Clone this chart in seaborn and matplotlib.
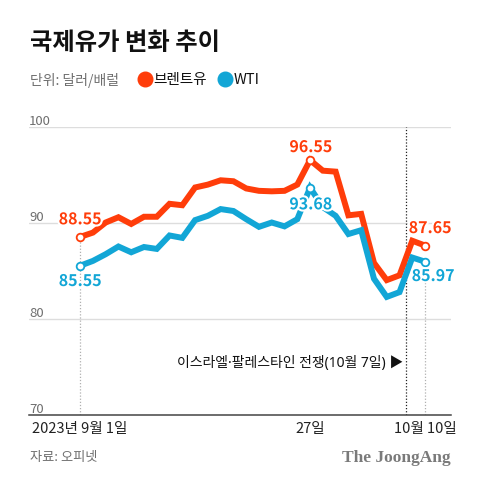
import numpy as np
import pandas as pd
import matplotlib
matplotlib.use("Agg")
import matplotlib.pyplot as plt
import matplotlib.patheffects as pe
from matplotlib.lines import Line2D
import seaborn as sns

# trading days from 2023-09-01 to 2023-10-10 (index on x axis)
brent = [88.55, 89.0, 90.05, 90.6, 89.9, 90.65, 90.65, 92.0, 91.85, 93.7,
         94.0, 94.45, 94.35, 93.6, 93.35, 93.3, 93.35, 94.0, 96.55, 95.45,
         95.35, 90.8, 90.95, 85.85, 84.05, 84.55, 88.15, 87.65]
wti = [85.55, 86.05, 86.75, 87.55, 86.95, 87.5, 87.3, 88.7, 88.45, 90.3,
       90.75, 91.45, 91.25, 90.4, 89.6, 90.05, 89.65, 90.4, 93.68, 91.65,
       90.75, 88.85, 89.25, 84.2, 82.3, 82.8, 86.4, 85.97]
tick_idx = [0, 18, 27]
tick_labels = ["2023년 9월 1일", "27일", "10월 10일"]
yticks = [70, 80, 90, 100]
war_idx = 25.5  # between Oct 6 and Oct 9

RED = "#FF3D0A"
BLUE = "#12A6D6"
GRAY = "#6e6e6e"

sns.set_style("white")
plt.rcParams["font.family"] = ["Noto Sans CJK KR", "DejaVu Sans"]

df = pd.DataFrame({
    "idx": list(range(len(brent))) * 2,
    "price": brent + wti,
    "series": ["브렌트유"] * len(brent) + ["WTI"] * len(wti),
})

fig = plt.figure(figsize=(4.8, 4.89), dpi=100)
ax = fig.add_axes([29 / 480, 1 - 416 / 489, 422 / 480, 288 / 489])

sns.lineplot(data=df, x="idx", y="price", hue="series",
             palette={"브렌트유": RED, "WTI": BLUE}, linewidth=4.3,
             legend=False, ax=ax, zorder=3)
for ln in ax.get_lines():
    ln.set_solid_joinstyle("miter")

ax.set_xlim(-4, 29.03)
ax.set_ylim(70, 100)

# grid lines + y labels
for v in yticks[1:]:
    ax.axhline(v, color="#dddddd", lw=1.0, zorder=1)
for v in yticks:
    ax.text(0.0, v + 0.33, str(v), transform=ax.get_yaxis_transform(),
            ha="left", va="baseline", fontsize=9.5, color=GRAY)
ax.set_yticks([])

# dotted guides
ax.vlines([0], 70, brent[0], colors="#b0b0b0", linestyles=(0, (1, 1.5)), lw=0.9, zorder=2)
ax.vlines([27], 70, wti[-1], colors="#b0b0b0", linestyles=(0, (1, 1.5)), lw=0.9, zorder=2)
ax.vlines([war_idx], 70, 100, colors="#222222", linestyles=(0, (1, 1.5)), lw=0.9, zorder=2)

# end points / peak markers
for series, color in ((brent, RED), (wti, BLUE)):
    pts = [0, 18, len(series) - 1]
    ax.plot(pts, [series[i] for i in pts], "o", ms=5.5, mfc="white",
            mec=color, mew=1.3, zorder=5, ls="none")

halo = [pe.withStroke(linewidth=3, foreground="white")]
labels = [
    (0, brent[0], "88.55", RED, (0, 12.7)),
    (0, wti[0], "85.55", BLUE, (0, -11)),
    (18, brent[18], "96.55", RED, (0.5, 9.4)),
    (18, wti[18], "93.68", BLUE, (0.5, -12)),
    (27, brent[-1], "87.65", RED, (3.6, 12.6)),
    (27, wti[-1], "85.97", BLUE, (5.8, -10.3)),
]
for x, y, s, c, off in labels:
    ax.annotate(s, (x, y), xytext=off, textcoords="offset points",
                ha="center", va="center", fontsize=11.5, color=c,
                fontweight="bold", path_effects=halo, zorder=6)

ax.text(25.27, 75.5, "이스라엘·팔레스타인 전쟁(10월 7일) ▶", ha="right", va="center",
        fontsize=10, color="#111111", family=["Noto Sans", "Noto Sans CJK KR", "DejaVu Sans"])

# x axis
for side in ("top", "right", "left"):
    ax.spines[side].set_visible(False)
ax.spines["bottom"].set_color("#444444")
ax.spines["bottom"].set_linewidth(1.1)
ax.set_xticks(tick_idx)
ax.set_xticklabels(tick_labels, fontsize=10.5, color="#222222")
ax.set_xticks(range(len(brent)), minor=True)
ax.tick_params(axis="x", which="major", direction="in", length=5, width=0.9,
               color="#888888", pad=4)
ax.tick_params(axis="x", which="minor", direction="in", length=3.5, width=0.7,
               color="#aaaaaa")
ax.set_xlabel("")
ax.set_ylabel("")

# header
fig.text(30 / 480, 1 - 43.5 / 489, "국제유가 변화 추이", fontsize=17.5, fontweight="heavy",
         ha="left", va="center", color="#111111")
fig.text(30 / 480, 1 - 80 / 489, "단위: 달러/배럴", fontsize=10, ha="left", va="center",
         color=GRAY)
for xd, xt, color, name in ((145, 153, RED, "브렌트유"), (225, 234, BLUE, "WTI")):
    fig.add_artist(Line2D([xd / 480], [1 - 80 / 489], marker="o", ms=10.5,
                          mfc=color, mec=color, transform=fig.transFigure))
    fig.text(xt / 480, 1 - 80 / 489, name, fontsize=10.5, ha="left", va="center",
             color="#111111")

# footer
fig.text(30 / 480, 1 - 458 / 489, "자료: 오피넷", fontsize=9.5, ha="left", va="center",
         color=GRAY)
fig.text(451 / 480, 1 - 458 / 489, "The JoongAng", fontsize=12.5, ha="right", va="center",
         color="#7a7a7a", fontweight="bold", family="Liberation Serif")

fig.savefig("out.png", dpi=100)
